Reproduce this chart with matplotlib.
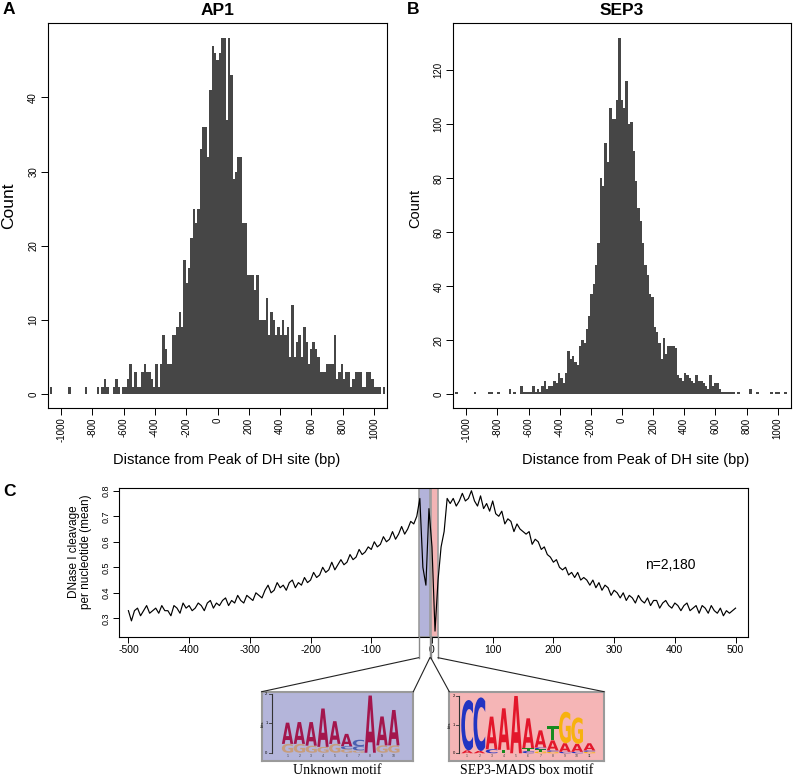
import numpy as np
import matplotlib
matplotlib.use('Agg')
import matplotlib.pyplot as plt
from matplotlib.lines import Line2D
from matplotlib.patches import PathPatch
from matplotlib.textpath import TextPath
from matplotlib.font_manager import FontProperties
from matplotlib.transforms import Affine2D

plt.rcParams['font.family'] = 'Liberation Sans'
plt.rcParams['axes.unicode_minus'] = False
plt.rcParams['axes.linewidth'] = 0.8

# ------- DATA ------- #

# histogram bins (bp from DH-site peak), 15 bp wide
bin_centers = np.arange(-1065, 1066, 15)

ap1_counts = [
    1, 0, 0, 0, 0, 0, 0, 0, 1, 0,
    0, 0, 0, 0, 0, 1, 0, 0, 0, 0,
    1, 0, 1, 2, 1, 0, 0, 1, 2, 1,
    0, 1, 1, 2, 4, 1, 3, 1, 1, 3,
    4, 3, 3, 2, 1, 4, 1, 4, 8, 6,
    4, 4, 8, 8, 9, 11, 9, 18, 15, 17,
    21, 25, 23, 25, 33, 36, 36, 32, 41, 47,
    46, 45, 46, 48, 48, 37, 48, 43, 29, 30,
    32, 32, 23, 23, 16, 16, 16, 14, 16, 10,
    10, 10, 13, 8, 11, 10, 8, 9, 8, 10,
    8, 9, 5, 12, 5, 7, 8, 5, 9, 7,
    4, 6, 7, 6, 5, 3, 3, 3, 4, 4,
    4, 8, 2, 3, 4, 2, 3, 3, 1, 2,
    3, 3, 3, 1, 1, 3, 3, 2, 1, 1,
    1, 0, 1,
]

sep3_counts = [
    1, 0, 0, 0, 0, 0, 0, 0, 1, 0,
    0, 0, 0, 0, 1, 1, 0, 0, 1, 0,
    0, 0, 0, 2, 0, 1, 0, 0, 3, 1,
    1, 1, 1, 3, 1, 2, 1, 3, 5, 2,
    3, 3, 5, 4, 8, 6, 4, 8, 16, 13,
    14, 12, 11, 18, 20, 19, 24, 29, 37, 41,
    48, 56, 80, 77, 93, 86, 106, 102, 102, 109,
    132, 109, 106, 116, 100, 101, 90, 79, 69, 64,
    56, 48, 44, 37, 36, 25, 23, 19, 13, 21,
    15, 18, 18, 18, 17, 7, 6, 5, 8, 7,
    6, 5, 4, 7, 5, 5, 4, 3, 2, 7,
    3, 4, 4, 2, 1, 1, 1, 1, 1, 1,
    0, 1, 0, 0, 0, 0, 2, 0, 0, 1,
    0, 0, 0, 0, 0, 1, 0, 1, 1, 0,
    0, 1, 0,
]

# DNase I cleavage profile, every 5 bp from -500 to 500
cleave_pos = np.arange(-500, 501, 5)
cleave_mean = [
    0.33, 0.29, 0.33, 0.34, 0.31, 0.33, 0.35, 0.32, 0.33, 0.34,
    0.32, 0.35, 0.33, 0.33, 0.31, 0.35, 0.34, 0.32, 0.36, 0.34,
    0.35, 0.33, 0.34, 0.36, 0.35, 0.33, 0.36, 0.37, 0.34, 0.36,
    0.35, 0.37, 0.38, 0.35, 0.37, 0.36, 0.39, 0.37, 0.36, 0.39,
    0.38, 0.37, 0.40, 0.39, 0.38, 0.41, 0.43, 0.40, 0.41, 0.44,
    0.42, 0.43, 0.41, 0.44, 0.45, 0.42, 0.44, 0.43, 0.46, 0.44,
    0.45, 0.48, 0.46, 0.47, 0.50, 0.48, 0.49, 0.52, 0.49, 0.51,
    0.53, 0.51, 0.52, 0.55, 0.53, 0.54, 0.57, 0.55, 0.56, 0.58,
    0.57, 0.60, 0.58, 0.59, 0.62, 0.60, 0.61, 0.64, 0.61, 0.63,
    0.66, 0.63, 0.65, 0.68, 0.67, 0.70, 0.77, 0.50, 0.43, 0.73,
    0.58, 0.25, 0.45, 0.58, 0.64, 0.77, 0.75, 0.77, 0.74, 0.76,
    0.79, 0.76, 0.77, 0.80, 0.76, 0.74, 0.78, 0.73, 0.75, 0.72,
    0.76, 0.71, 0.70, 0.72, 0.67, 0.69, 0.68, 0.64, 0.67, 0.65,
    0.64, 0.63, 0.64, 0.59, 0.61, 0.60, 0.57, 0.58, 0.55, 0.54,
    0.52, 0.53, 0.50, 0.49, 0.50, 0.47, 0.48, 0.46, 0.48, 0.45,
    0.46, 0.45, 0.43, 0.45, 0.42, 0.44, 0.41, 0.43, 0.42, 0.39,
    0.41, 0.40, 0.38, 0.40, 0.37, 0.39, 0.38, 0.36, 0.39, 0.37,
    0.36, 0.38, 0.35, 0.37, 0.37, 0.34, 0.36, 0.37, 0.35, 0.34,
    0.36, 0.35, 0.33, 0.35, 0.36, 0.33, 0.34, 0.35, 0.32, 0.35,
    0.34, 0.32, 0.35, 0.33, 0.32, 0.34, 0.31, 0.33, 0.32, 0.33,
    0.34,
]

# motif windows (bp)
unknown_span = (-22, -3.5)
sep3_span = (-2, 10)

# sequence logos: per position, letters stacked bottom -> top with height in bits
unknown_motif = [
    [('G', 0.30), ('A', 0.72)],
    [('G', 0.30), ('A', 0.74)],
    [('G', 0.24), ('A', 0.80)],
    [('G', 0.20), ('A', 1.30)],
    [('G', 0.30), ('A', 0.77)],
    [('G', 0.12), ('C', 0.10), ('A', 0.42)],
    [('G', 0.08), ('C', 0.14), ('C', 0.22)],
    [('A', 1.94)],
    [('G', 0.25), ('A', 0.98)],
    [('G', 0.25), ('A', 1.20)],
]
sep3_motif = [
    [('A', 0.10), ('C', 1.76)],
    [('A', 0.08), ('C', 1.87)],
    [('C', 0.14), ('A', 1.14)],
    [('T', 0.12), ('A', 1.45)],
    [('A', 2.00)],
    [('C', 0.08), ('T', 0.10), ('A', 1.04)],
    [('G', 0.06), ('T', 0.08), ('C', 0.06), ('A', 0.60)],
    [('G', 0.05), ('C', 0.05), ('A', 0.35), ('T', 0.50)],
    [('C', 0.05), ('A', 0.30), ('G', 1.10)],
    [('C', 0.05), ('A', 0.28), ('G', 0.92)],
    [('G', 0.05), ('C', 0.05), ('A', 0.25)],
]

# ------- FIGURE ------- #
W, H = 793, 776
fig = plt.figure(figsize=(W / 100, H / 100), dpi=100)

def px(x0, y0, x1, y1):
    # pixel box -> figure fraction rect
    return [x0 / W, 1 - y1 / H, (x1 - x0) / W, (y1 - y0) / H]

bar_color = '#464646'

def hist_panel(rect, counts, title, ylim, yticks):
    ax = fig.add_axes(rect)
    ax.bar(bin_centers, counts, width=16, color=bar_color, linewidth=0)
    ax.set_xlim(-1084, 1084)
    ax.set_ylim(*ylim)
    ax.set_xticks(np.arange(-1000, 1001, 200))
    ax.set_yticks(yticks)
    ax.tick_params(direction='out', length=5, width=0.7, labelsize=7, pad=2)
    for lab in ax.get_xticklabels():
        lab.set_rotation(90)
    for lab in ax.get_yticklabels():
        lab.set_rotation(90)
        lab.set_va('center')
    ax.set_title(title, fontsize=12.5, fontweight='bold', pad=6)
    return ax

ax_a = hist_panel(px(48, 23.3, 387, 408), ap1_counts, 'AP1', (-1.9, 50),
                  np.arange(0, 41, 10))
ax_b = hist_panel(px(453.3, 23.3, 790.7, 408), sep3_counts, 'SEP3', (-5.1, 137.4),
                  np.arange(0, 121, 20))

fig.text(9 / W, 1 - 206 / H, 'Count', rotation=90, ha='center', va='center', fontsize=12.5)
fig.text(415 / W, 1 - 208 / H, 'Count', rotation=90, ha='center', va='center', fontsize=10.5)
fig.text(226.5 / W, 1 - 460 / H, 'Distance from Peak of DH site (bp)',
         ha='center', va='center', fontsize=10.5)
fig.text(636 / W, 1 - 460 / H, 'Distance from Peak of DH site (bp)',
         ha='center', va='center', fontsize=10.5)

for lab, (x, y) in {'A': (3, 9), 'B': (407, 9), 'C': (3, 492)}.items():
    fig.text(x / W, 1 - y / H, lab, ha='left', va='center', fontsize=12.5, fontweight='bold')

# ------- PANEL C ------- #
ax_c = fig.add_axes(px(119.3, 487.7, 748.3, 636.7))
ax_c.set_xlim(-515, 521)
ax_c.set_ylim(0.228, 0.812)
ax_c.axvspan(*unknown_span, facecolor='#b3b3da', edgecolor='#9c9c9c', lw=1.2, zorder=1)
ax_c.axvspan(*sep3_span, facecolor='#f3b4b5', edgecolor='#9c9c9c', lw=1.2, zorder=1)
ax_c.plot(cleave_pos, cleave_mean, color='black', lw=0.85, zorder=3)
ax_c.set_xticks(np.arange(-500, 501, 100))
ax_c.set_yticks(np.arange(0.3, 0.81, 0.1))
ax_c.set_yticklabels(['0.3', '0.4', '0.5', '0.6', '0.7', '0.8'])
ax_c.tick_params(direction='out', length=4, width=0.7, pad=2)
ax_c.tick_params(axis='x', labelsize=7.5)
ax_c.tick_params(axis='y', labelsize=6.5)
for lab in ax_c.get_yticklabels():
    lab.set_rotation(90)
    lab.set_va('center')
ax_c.text(393, 0.51, 'n=2,180', ha='center', va='center', fontsize=10)
fig.text(80 / W, 1 - 552 / H, 'DNase I cleavage\nper nucleotide (mean)', rotation=90,
         ha='center', va='center', fontsize=8.5, linespacing=1.05)

# ------- LOGOS ------- #
logo_font = FontProperties(family='DejaVu Sans', weight='bold')

def draw_letter(ax, letter, x, y, w, h, color):
    tp = TextPath((0, 0), letter, size=1, prop=logo_font)
    bb = tp.get_extents()
    tr = Affine2D().translate(-bb.x0, -bb.y0).scale(w / bb.width, h / bb.height).translate(x, y)
    ax.add_patch(PathPatch(tr.transform_path(tp), facecolor=color, lw=0))

def logo_panel(rect, motif, colors, bg, xlim, ylim, yaxis_x, label):
    ax = fig.add_axes(rect, facecolor=bg)
    ax.set_xlim(*xlim)
    ax.set_ylim(*ylim)
    ax.set_xticks([])
    ax.set_yticks([])
    for s in ax.spines.values():
        s.set_color('#9a9a9a')
        s.set_linewidth(1.5)
    for i, stack in enumerate(motif):
        y = 0
        for letter, h in stack:
            draw_letter(ax, letter, i + 0.52, y, 0.96, h, colors[letter])
            y += h
        ax.text(i + 1, -0.04, str(i + 1), fontsize=2.5, ha='center', va='top', color='#444')
    ax.plot([yaxis_x, yaxis_x], [0, 2], color='#333333', lw=0.8)
    for t in (0, 1, 2):
        ax.plot([yaxis_x - 0.25, yaxis_x], [t, t], color='#333333', lw=0.6)
        ax.text(yaxis_x - 0.35, t, str(t), fontsize=3, ha='right', va='center')
    ax.text(yaxis_x - 0.75, 1, 'bits', fontsize=3, rotation=90, ha='center', va='center')
    x0, y0, w, h = rect
    fig.text(x0 + w / 2, 1 - 770 / H, label, ha='center', va='center', fontsize=10,
             family='Liberation Serif')
    return ax

unknown_colors = {'A': '#a3164c', 'G': '#c79d7c', 'C': '#4a5fb0', 'T': '#2a7f3a'}
sep3_colors = {'A': '#e3172b', 'G': '#f7b20f', 'C': '#2234c2', 'T': '#168a1e'}

ax_u = logo_panel(px(261.7, 691.7, 413.3, 760.7), unknown_motif, unknown_colors, '#b4b5da',
                  (-1.19, 11.65), (-0.27, 2.07), -0.35, 'Unknown motif')
ax_s = logo_panel(px(449.3, 691.7, 604, 760.7), sep3_motif, sep3_colors, '#f5b5b6',
                  (-0.46, 12.2), (-0.26, 2.15), 0.36, 'SEP3-MADS box motif')

# connectors from motif windows down to the logos
to_fig = fig.transFigure.inverted()
ybot = ax_c.get_ylim()[0]
knee = ax_c.get_position().y0 - 21 / H

def edge_point(x):
    return to_fig.transform(ax_c.transData.transform((x, ybot)))

for span, box in ((unknown_span, ax_u), (sep3_span, ax_s)):
    pos = box.get_position()
    for xv, corner in ((span[0], pos.x0), (span[1], pos.x1)):
        fx, fy = edge_point(xv)
        fig.add_artist(Line2D([fx, fx], [fy, knee], color='#8a8a8a', lw=1.0))
        fig.add_artist(Line2D([fx, corner], [knee, pos.y1], color='#222222', lw=0.8))

fig.savefig('out.png', dpi=100)
